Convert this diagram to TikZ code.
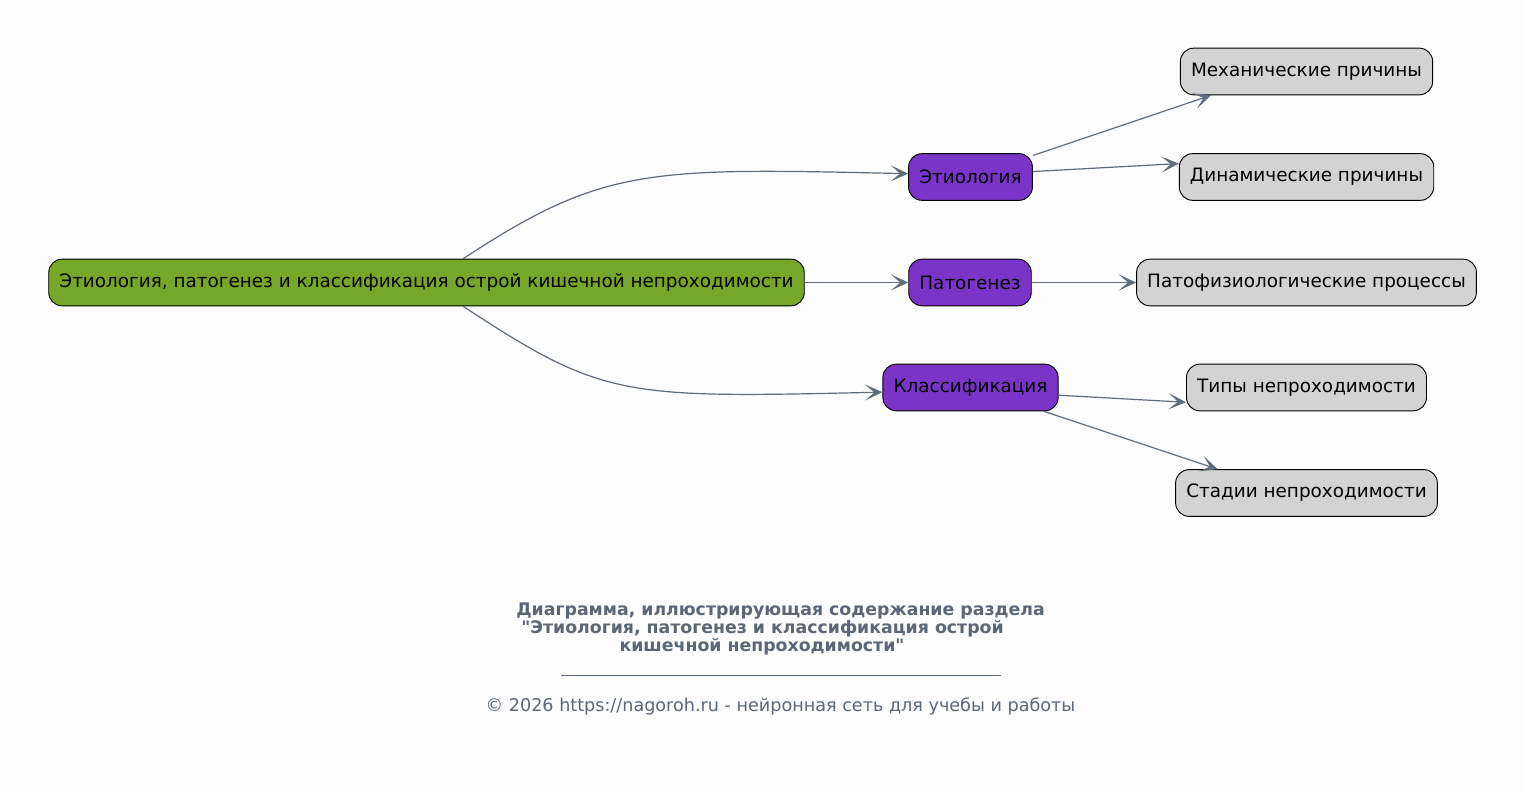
\documentclass[tikz,border=0pt]{standalone}
\usepackage{fontspec}
\setmainfont{DejaVu Sans}[Ligatures=TeXOff]
\usetikzlibrary{arrows.meta}
\definecolor{rootgreen}{HTML}{76A729}
\definecolor{topicpurple}{HTML}{7A35C8}
\definecolor{leafgray}{HTML}{D3D3D3}
\definecolor{edgeslate}{HTML}{5F6C7B}
\definecolor{captionslate}{HTML}{5B6777}
\definecolor{pagewhite}{HTML}{FDFDFD}
\tikzstyle{box} = [draw=black, rounded corners=10pt, minimum height=35pt,
    inner xsep=8pt, line width=0.7pt, font=\fontsize{13.8}{16}\selectfont]
\tikzstyle{rootbox} = [box, fill=rootgreen]
\tikzstyle{topicbox} = [box, fill=topicpurple]
\tikzstyle{leafbox} = [box, fill=leafgray]
\tikzstyle{link} = [draw=edgeslate, line width=0.9pt,
    -{Stealth[length=13pt,width=12pt,inset=7pt]}]
\tikzstyle{caption} = [text=captionslate, inner sep=0pt]
\begin{document}
\begin{tikzpicture}[x=0.75pt, y=-0.75pt]
    \fill[pagewhite] (0,0) rectangle (1525,791);
    % We start by placing the blocks
    \node [rootbox] (root) at (426.5,282.5) {Этиология, патогенез и классификация острой кишечной непроходимости};
    \node [topicbox] (etio) at (970.5,177) {Этиология};
    \node [topicbox] (patho) at (970,282.5) {Патогенез};
    \node [topicbox] (class) at (970.5,387.5) {Классификация};
    \node [leafbox] (mech) at (1306.5,71.5) {Механические причины};
    \node [leafbox] (dyn) at (1306.5,177) {Динамические причины};
    \node [leafbox] (process) at (1306.5,282.5) {Патофизиологические процессы};
    \node [leafbox] (types) at (1306.5,387.5) {Типы непроходимости};
    \node [leafbox] (stages) at (1306.5,493) {Стадии непроходимости};
    % Now the edges between the blocks
    \draw [link] (root.33) .. controls +(140,-92) and +(-260,-6) .. (etio.177);
    \draw [link] (root) -- (patho);
    \draw [link] (root.-33) .. controls +(140,92) and +(-260,6) .. (class.183);
    \draw [link] (etio.19) -- (mech.194);
    \draw [link] (etio.5) -- (dyn.174);
    \draw [link] (patho) -- (process);
    \draw [link] (class.-5) -- (types.187);
    \draw [link] (class.-18) -- (stages.165);
    % Caption below the diagram
    \node [caption, font=\bfseries\fontsize{13}{15}\selectfont] (cap1) at (780.5,611) {Диаграмма, иллюстрирующая содержание раздела};
    \node [caption, font=\bfseries\fontsize{13}{15}\selectfont] (cap2) at (762.5,629) {"Этиология, патогенез и классификация острой};
    \node [caption, font=\bfseries\fontsize{13}{15}\selectfont] (cap3) at (762,647) {кишечной непроходимости"};
    \coordinate (ruleL) at (561,675);
    \coordinate (ruleR) at (1001,675);
    \draw [captionslate, line width=0.5pt] (ruleL) -- (ruleR);
    \node [caption, font=\fontsize{13.2}{15}\selectfont] (copy) at (780.5,706) {© 2026 https://nagoroh.ru - нейронная сеть для учебы и работы};
\end{tikzpicture}
\end{document}
